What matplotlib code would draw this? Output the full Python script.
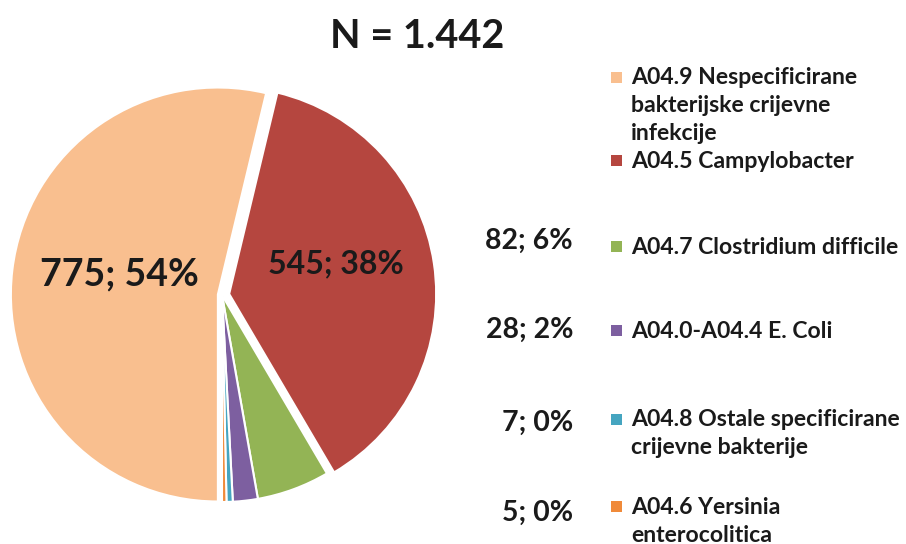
import numpy as np
import matplotlib.pyplot as plt
from matplotlib.patches import Rectangle

plt.rcParams['font.family'] = ['Lato', 'DejaVu Sans']

# data
names = ['A04.9 Nespecificirane\nbakterijske crijevne\ninfekcije',
         'A04.5 Campylobacter',
         'A04.7 Clostridium difficile',
         'A04.0-A04.4 E. Coli',
         'A04.8 Ostale specificirane\ncrijevne bakterije',
         'A04.6 Yersinia\nenterocolitica']
counts = [775, 545, 82, 28, 7, 5]
colors = ['#F9BF8F', '#B5463F', '#93B455', '#7D5FA0', '#45A5C0', '#F08A3A']
total = sum(counts)

fig = plt.figure(figsize=(9.06, 5.44), dpi=100)
W, H = 906, 544

# pie axes: square, centred on the pie
side = 460
cx, cy = 222, 295
ax = fig.add_axes([(cx - side / 2) / W, (H - cy - side / 2) / H, side / W, side / H])
wedges, _ = ax.pie(counts, colors=colors, startangle=-90, counterclock=False,
                   explode=[0.02, 0.035, 0, 0, 0, 0],
                   wedgeprops=dict(edgecolor='white', linewidth=1.5))
lim = side / 2 / 207
ax.set_xlim(-lim, lim)
ax.set_ylim(-lim, lim)
ax.set_aspect('equal')
ax.axis('off')

def lab(c):
    return '%d; %d%%' % (c, round(100 * c / total))

# labels inside the two big slices
for w, c, r, fs, dy in [(wedges[0], counts[0], 0.50, 27, 0.04), (wedges[1], counts[1], 0.557, 23, 0.068)]:
    mid = np.deg2rad((w.theta1 + w.theta2) / 2)
    ax.text(r * np.cos(mid), r * np.sin(mid) + dy, lab(c), ha='center', va='center',
            fontsize=fs, fontweight='bold', color='#1a1a1a')

fig.text(417 / W, 1 - 36 / H, 'N = %s' % format(total, ',').replace(',', '.'),
         ha='center', va='center', fontsize=28.5, fontweight='bold', color='#1a1a1a')

# legend, drawn by hand to follow the original spacing
leg_y = [78, 161, 247, 331, 420, 507]
line_h = 28
for i, (n, col) in enumerate(zip(names, colors)):
    y = leg_y[i]
    fig.patches.append(Rectangle((611 / W, 1 - (y + 5) / H), 11 / W, 11 / H,
                                 transform=fig.transFigure, facecolor=col, edgecolor='none'))
    for k, line in enumerate(n.split('\n')):
        fig.text(631 / W, 1 - (y + k * line_h) / H, line, ha='left', va='center',
                 fontsize=16.6, fontweight='bold', color='#1a1a1a')

# value labels for the small slices, next to their legend entries
out_y = [241, 330, 423, 513]
for c, y in zip(counts[2:], out_y):
    fig.text(573 / W, 1 - y / H, lab(c), ha='right', va='center',
             fontsize=20.5, fontweight='bold', color='#1a1a1a')

plt.savefig('out.png', dpi=100)
